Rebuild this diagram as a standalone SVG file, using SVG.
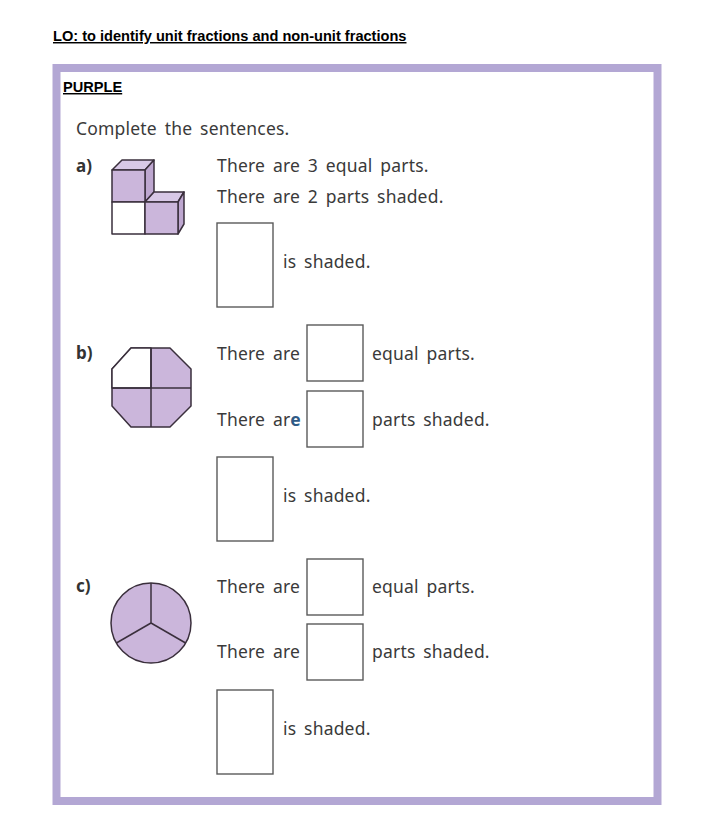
<svg xmlns="http://www.w3.org/2000/svg" width="717" height="819" viewBox="0 0 717 819">
<style>
.hd{font-family:"Liberation Sans",Arial,sans-serif;font-weight:bold;font-size:14.6px;fill:#000;text-decoration:underline;}
.tx{font-family:"Noto Sans","Open Sans",sans-serif;font-size:17.5px;letter-spacing:0.2px;word-spacing:3px;fill:#3a3a3a;}
.lb{font-family:"Noto Sans","Open Sans",sans-serif;font-size:17px;font-weight:bold;fill:#333;}
.box{fill:#fff;stroke:#5a5a5a;stroke-width:1.4;}
.sh{stroke:#3a2f3c;stroke-width:1.5;stroke-linejoin:round;}
.p{fill:#cbb6db;}
.pt{fill:#d8c8e6;}
.pr{fill:#bea7d0;}
.w{fill:#fff;}
</style>
<rect width="717" height="819" fill="#fff"/>
<text class="hd" x="53" y="41">LO: to identify unit fractions and non-unit fractions</text>
<rect id="frame" x="56.5" y="68" width="601" height="733" fill="none" stroke="#b3a7d4" stroke-width="8"/>
<text class="hd" x="63" y="92">PURPLE</text>
<text class="tx" x="76" y="135">Complete the sentences.</text>

<g id="part-a">
<text class="lb" x="76" y="172">a)</text>
<g id="cubes" class="sh">
<polygon class="pt" points="112,170 122,160 154,160 145,170"/>
<polygon class="pr" points="145,170 154,160 154,192 145,202"/>
<rect class="p" x="112" y="170" width="33" height="32"/>
<polygon class="pt" points="145,202 154,192 184,192 178,202"/>
<polygon class="pr" points="178,202 184,192 184,224 178,234"/>
<rect class="w" x="112" y="202" width="33" height="32"/>
<rect class="p" x="145" y="202" width="33" height="32"/>
</g>
<text class="tx" x="217" y="172">There are 3 equal parts.</text>
<text class="tx" x="217" y="203">There are 2 parts shaded.</text>
<rect class="box" x="217" y="223" width="56" height="84"/>
<text class="tx" x="283" y="268">is shaded.</text>
</g>

<g id="part-b">
<text class="lb" x="76" y="359">b)</text>
<g id="octagon" class="sh">
<polygon class="p" points="131,348 170,348 191,369 191,406 170,427 131,427 112,406 112,369"/>
<polygon class="w" points="131,348 151,348 151,388 112,388 112,369"/>
<line x1="151" y1="348" x2="151" y2="427"/>
<line x1="112" y1="388" x2="191" y2="388"/>
</g>
<text class="tx" x="217" y="360">There are</text>
<rect class="box" x="307" y="325" width="56" height="56"/>
<text class="tx" x="372" y="360">equal parts.</text>
<text class="tx" x="217" y="426">There ar<tspan fill="#2f5a86" font-weight="bold">e</tspan></text>
<rect class="box" x="307" y="391" width="56" height="56"/>
<text class="tx" x="372" y="426">parts shaded.</text>
<rect class="box" x="217" y="457" width="56" height="84"/>
<text class="tx" x="283" y="502">is shaded.</text>
</g>

<g id="part-c">
<text class="lb" x="76" y="592">c)</text>
<g id="circle" class="sh">
<circle class="p" cx="151" cy="623" r="40"/>
<line x1="151" y1="623" x2="151" y2="583"/>
<line x1="151" y1="623" x2="116.4" y2="643"/>
<line x1="151" y1="623" x2="185.6" y2="643"/>
</g>
<text class="tx" x="217" y="593">There are</text>
<rect class="box" x="307" y="559" width="56" height="56"/>
<text class="tx" x="372" y="593">equal parts.</text>
<text class="tx" x="217" y="658">There are</text>
<rect class="box" x="307" y="624" width="56" height="56"/>
<text class="tx" x="372" y="658">parts shaded.</text>
<rect class="box" x="217" y="690" width="56" height="84"/>
<text class="tx" x="283" y="735">is shaded.</text>
</g>
</svg>
